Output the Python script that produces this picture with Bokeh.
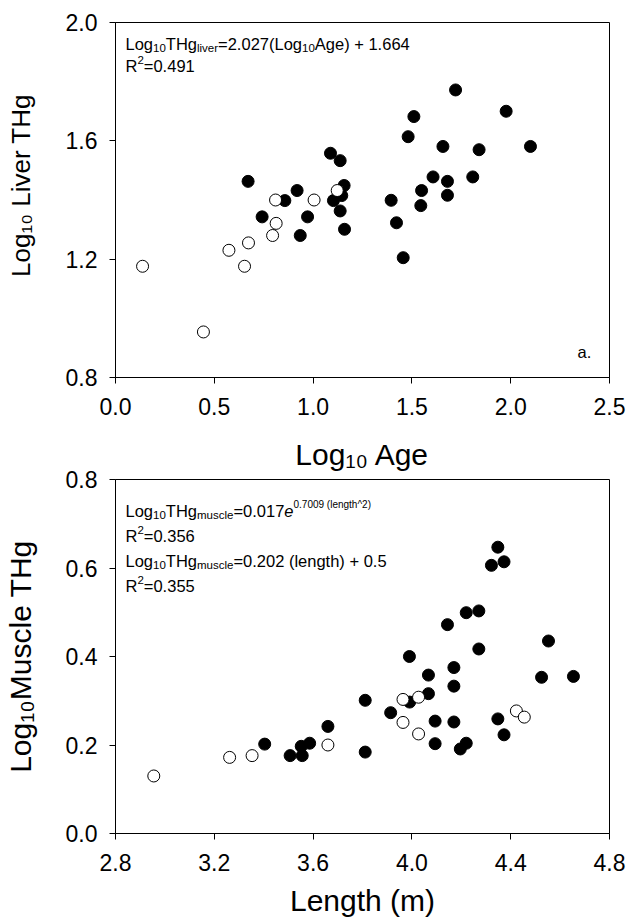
import math
from bokeh.plotting import figure
from bokeh.models import Range1d, FixedTicker, PrintfTickFormatter, Label, Title
from bokeh.layouts import column
from bokeh.embed import file_html
from bokeh.resources import INLINE

# ---------------- data ----------------
# Panel a: Log10 Age vs Log10 Liver THg
age_open_x = [0.137, 0.445, 0.653, 0.574, 0.673, 0.795, 0.813, 0.810, 1.005, 1.122]
age_open_y = [1.176, 0.954, 1.176, 1.230, 1.255, 1.280, 1.321, 1.400, 1.400, 1.432]
age_fill_x = [0.671, 0.742, 0.857, 0.919, 0.935, 0.972, 1.088, 1.137, 1.157, 1.145,
              1.103, 1.137, 1.159, 1.721, 1.977, 1.510, 1.481, 1.657, 1.840, 2.100,
              1.607, 1.680, 1.808, 1.549, 1.680, 1.395, 1.545, 1.422, 1.456]
age_fill_y = [1.463, 1.343, 1.398, 1.432, 1.280, 1.343, 1.558, 1.533, 1.449, 1.415,
              1.398, 1.363, 1.301, 1.772, 1.700, 1.682, 1.614, 1.581, 1.570, 1.581,
              1.478, 1.463, 1.478, 1.432, 1.416, 1.399, 1.381, 1.323, 1.205]

# Panel b: Length vs Log10 Muscle THg
len_open_x = [2.955, 3.262, 3.353, 3.660, 3.964, 4.027, 3.964, 4.027, 4.423, 4.455]
len_open_y = [0.130, 0.172, 0.176, 0.200, 0.303, 0.308, 0.251, 0.225, 0.277, 0.263]
len_fill_x = [3.404, 3.507, 3.556, 3.552, 3.586, 3.660, 4.348, 4.322, 4.373, 4.220,
              4.271, 4.144, 4.553, 4.271, 3.990, 4.170, 4.067, 4.525, 4.654, 4.170,
              4.067, 3.811, 3.991, 3.914, 4.348, 4.094, 4.170, 4.373, 4.094, 4.220,
              4.196, 3.811]
len_fill_y = [0.202, 0.176, 0.176, 0.197, 0.204, 0.242, 0.647, 0.606, 0.614, 0.499,
              0.503, 0.472, 0.435, 0.417, 0.400, 0.375, 0.358, 0.353, 0.355, 0.333,
              0.316, 0.301, 0.297, 0.273, 0.259, 0.254, 0.252, 0.223, 0.203, 0.204,
              0.191, 0.184]

top_xticks = [0.0, 0.5, 1.0, 1.5, 2.0, 2.5]
top_yticks = [0.8, 1.2, 1.6, 2.0]
bot_xticks = [2.8, 3.2, 3.6, 4.0, 4.4, 4.8]
bot_yticks = [0.0, 0.2, 0.4, 0.6, 0.8]

top_xlabel = "Log\u2081\u2080 Age"
top_ylabel = "Log\u2081\u2080 Liver THg"
bot_xlabel = "Length (m)"
bot_ylabel = "Log\u2081\u2080Muscle THg"

FONT = "Liberation Sans"
TXT = 16.5   # annotation font size
SUB = 11.5   # sub/superscript size

# Arial / Liberation Sans advance widths (per 1000 em)
W = {' ': 278, '(': 333, ')': 333, '+': 584, '.': 278, '=': 584, '^': 469,
     'A': 667, 'H': 722, 'L': 556, 'M': 833, 'R': 722, 'T': 611,
     'a': 556, 'c': 500, 'e': 556, 'g': 556, 'h': 556, 'i': 222, 'l': 222,
     'm': 833, 'n': 556, 'o': 556, 'r': 333, 's': 500, 't': 278, 'u': 556, 'v': 500}
for d in "0123456789":
    W[d] = 556


def tw(s, size):
    return sum(W.get(c, 556) for c in s) * size / 1000.0


def rich(p, segs, px, py, fl, fb):
    """segs: (text, size, baseline shift (+up), style). px,py page coords of start baseline."""
    adv = 0.0
    for text, size, shift, style in segs:
        p.add_layout(Label(x=px - fl + adv, y=fb - py + shift, x_units="screen", y_units="screen",
                           text=text, text_font=FONT, text_font_size=f"{size}px",
                           text_font_style=style, text_color="black",
                           text_align="left", text_baseline="alphabetic"))
        adv += tw(text, size)


def make_fig(w, h, xr, yr, bl, br, bt, bb, xt, yt):
    p = figure(width=w, height=h, x_range=Range1d(*xr), y_range=Range1d(*yr),
               output_backend="svg", toolbar_location=None, title=None,
               min_border_left=bl, min_border_right=br, min_border_top=bt, min_border_bottom=bb)
    p.xgrid.visible = False
    p.ygrid.visible = False
    p.outline_line_color = "black"
    p.outline_line_width = 1
    p.outline_line_alpha = 1.0
    p.background_fill_color = "white"
    p.border_fill_color = "white"
    for ax, ticks in ((p.xaxis[0], xt), (p.yaxis[0], yt)):
        ax.ticker = FixedTicker(ticks=ticks)
        ax.formatter = PrintfTickFormatter(format="%.1f")
        ax.axis_line_color = "black"
        ax.major_tick_line_color = "black"
        ax.major_tick_out = 6
        ax.major_tick_in = 0
        ax.minor_tick_line_color = None
        ax.major_label_text_font = FONT
        ax.major_label_text_font_size = "23px"
        ax.major_label_text_color = "black"
        ax.axis_label_text_font = FONT
        ax.axis_label_text_font_size = "30px"
        ax.axis_label_text_font_style = "normal"
        ax.axis_label_text_color = "black"
    p.xaxis[0].major_label_standoff = 14
    p.yaxis[0].major_label_standoff = 12
    p.xaxis[0].axis_label_standoff = 10
    p.yaxis[0].axis_label_standoff = 26
    return p


def dots(p, fx, fy, ox, oy):
    p.scatter(fx, fy, marker="circle", size=12, fill_color="black", line_color="black")
    p.scatter(ox, oy, marker="circle", size=12, fill_color="white", line_color="black", line_width=1)


# ---------------- panel a ----------------
FL1, FB1 = 115, 377
p1 = make_fig(629, 425, (0.0, 2.5), (0.8, 2.0), 115, 20, 22, 48, top_xticks, top_yticks)
dots(p1, age_fill_x, age_fill_y, age_open_x, age_open_y)
p1.yaxis[0].axis_label = "\u00a0" * 4 + top_ylabel
p1.yaxis[0].axis_label_text_font_size = "26px"
p1.yaxis[0].axis_label_standoff = 27

rich(p1, [("Log", TXT, 0, "normal"), ("10", SUB, -4, "normal"), ("THg", TXT, 0, "normal"),
          ("liver", SUB, -4, "normal"), ("=2.027(Log", TXT, 0, "normal"), ("10", SUB, -4, "normal"),
          ("Age) + 1.664", TXT, 0, "normal")], 125, 43, FL1, FB1)
rich(p1, [("R", TXT, 0, "normal"), ("2", SUB, 6, "normal"), ("=0.491", TXT, 0, "normal")], 125, 65, FL1, FB1)
rich(p1, [("a.", TXT, 0, "normal")], 577, 351, FL1, FB1)

# ---------------- panel b ----------------
FL2, FB2 = 115, 833
p2 = make_fig(629, 498, (2.8, 4.8), (0.0, 0.8), 115, 20, 54, 90, bot_xticks, bot_yticks)
dots(p2, len_fill_x, len_fill_y, len_open_x, len_open_y)
p2.xaxis[0].axis_label = bot_xlabel
p2.yaxis[0].axis_label = bot_ylabel
# x-axis title of panel a sits in the gap above panel b
p2.add_layout(Title(text=top_xlabel, align="center", vertical_align="bottom", standoff=18,
                    text_font=FONT, text_font_size="30px", text_font_style="normal",
                    text_color="black"), "above")

rich(p2, [("Log", TXT, 0, "normal"), ("10", SUB, -4, "normal"), ("THg", TXT, 0, "normal"),
          ("muscle", SUB, -4, "normal"), ("=0.017", TXT, 0, "normal"), ("e", TXT, 0, "italic"),
          ("  0.7009 (length^2)", 10, 6, "normal")], 125, 510, FL2, FB2)
rich(p2, [("R", TXT, 0, "normal"), ("2", SUB, 6, "normal"), ("=0.356", TXT, 0, "normal")], 125, 535, FL2, FB2)
rich(p2, [("Log", TXT, 0, "normal"), ("10", SUB, -4, "normal"), ("THg", TXT, 0, "normal"),
          ("muscle", SUB, -4, "normal"), ("=0.202 (length) + 0.5", TXT, 0, "normal")], 125, 560, FL2, FB2)
rich(p2, [("R", TXT, 0, "normal"), ("2", SUB, 6, "normal"), ("=0.355", TXT, 0, "normal")], 125, 585, FL2, FB2)

layout = column(p1, p2)
open("out.html", "w").write(file_html(layout, INLINE))
